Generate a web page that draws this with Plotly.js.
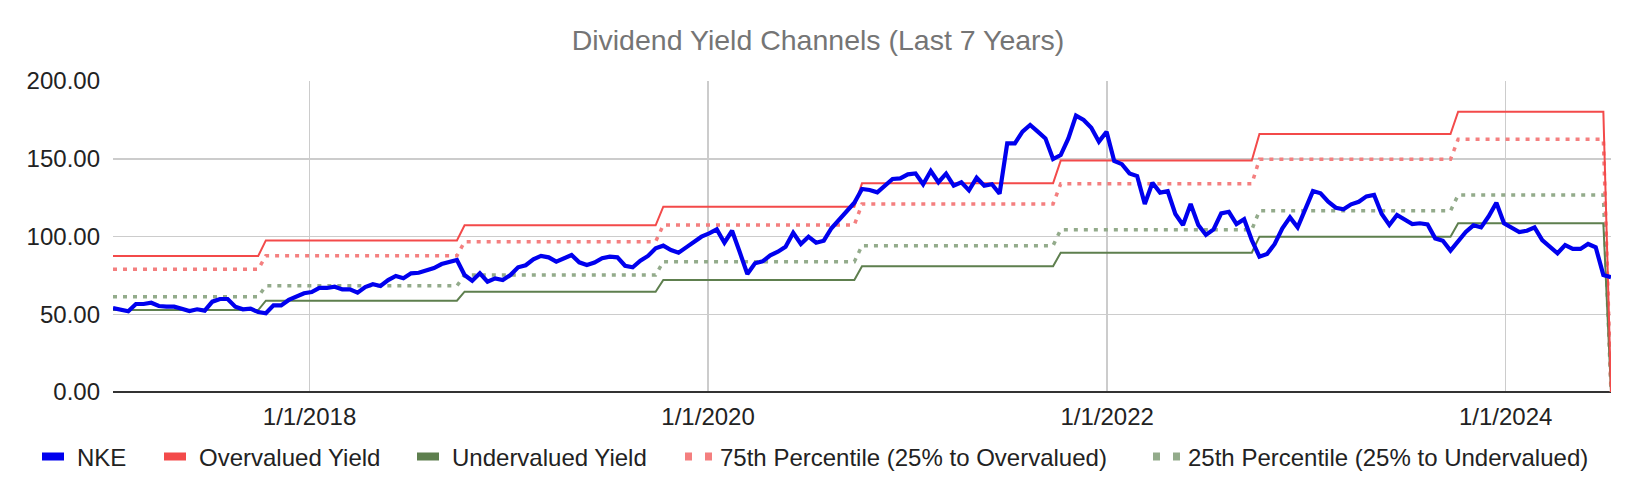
<!DOCTYPE html>
<html>
<head>
<meta charset="utf-8">
<script src="https://cdn.plot.ly/plotly-3.0.1.min.js"></script>
<style>
  html, body { margin: 0; padding: 0; background: #fff; }
  #chart { width: 1636px; height: 494px; }
</style>
</head>
<body>
<div id="chart"></div>
<script>
// ---- Data ----
const chartTitle = 'Dividend Yield Channels (Last 7 Years)';
const seriesNames = ['NKE', 'Overvalued Yield', 'Undervalued Yield',
  '75th Percentile (25% to Overvalued)', '25th Percentile (25% to Undervalued)'];

// NKE: biweekly observations starting 2017-01-06
const nkeStart = '2017-01-06';
const nkeStepDays = 14;
const nkeValues = [
  54.0, 53.2, 51.9, 56.6, 56.6, 57.4, 55.3, 54.9, 54.9, 53.6,
  52.1, 53.2, 52.3, 58.1, 59.8, 59.8, 54.9, 53.2, 53.6, 51.4,
  50.6, 55.7, 55.7, 59.2, 61.3, 63.5, 64.3, 66.9, 66.9, 67.7,
  66.0, 66.0, 63.9, 67.5, 69.3, 68.2, 72.0, 74.6, 73.1, 76.3,
  76.7, 78.5, 79.7, 82.3, 83.6, 84.9, 75.2, 71.6, 76.3, 70.9,
  73.1, 72.0, 75.2, 80.2, 81.5, 85.3, 87.5, 86.6, 83.8, 86.0,
  88.1, 83.4, 81.7, 83.2, 86.0, 87.0, 86.6, 81.2, 80.2, 84.4,
  87.5, 92.4, 94.1, 91.3, 89.6, 93.0, 96.7, 99.9, 102.0, 104.6,
  96.0, 103.7, 90.0, 75.9, 82.8, 84.0, 87.9, 90.2, 93.4, 102.4,
  95.2, 99.9, 96.0, 97.3, 105.3, 110.6, 116.0, 121.7, 130.6, 129.9,
  128.4, 133.1, 137.0, 137.4, 140.0, 140.6, 133.6, 142.1, 134.9, 140.4,
  132.7, 134.9, 129.7, 137.8, 132.7, 133.6, 127.5, 159.9, 159.9, 167.4,
  171.7, 167.4, 163.1, 149.8, 152.4, 163.1, 177.7, 174.9, 170.0, 161.0,
  167.4, 148.6, 146.5, 140.6, 138.9, 120.9, 134.6, 128.2, 129.1, 114.5,
  107.4, 120.9, 107.4, 101.0, 104.6, 114.9, 115.9, 108.0, 111.1, 97.7,
  87.0, 88.7, 95.2, 105.3, 112.3, 105.9, 118.1, 129.2, 127.8, 122.4,
  118.5, 117.5, 120.7, 122.3, 125.8, 126.7, 114.5, 107.4, 113.8, 111.0,
  108.0, 108.5, 107.8, 98.8, 97.3, 90.9, 96.7, 102.9, 107.2, 105.9,
  113.0, 121.7, 108.5, 105.5, 102.9, 103.7, 105.9, 97.7, 93.0, 89.2,
  94.5, 92.0, 92.0, 95.2, 93.1, 75.2, 73.8
];

// Channel bands: one level per dividend period
const periodStart = ['2017-01-06', '2017-10-13', '2018-10-12', '2019-10-11',
  '2020-10-09', '2021-10-08', '2022-10-07', '2023-10-06'];
const periodEnd = ['2017-09-29', '2018-09-28', '2019-09-27', '2020-09-25',
  '2021-09-24', '2022-09-23', '2023-09-22', '2024-06-28'];
const finalDate = '2024-07-12';
const finalValue = 0;
const overLevels  = [87.5, 97.5, 107.2, 119.2, 134.2, 148.8, 165.9, 180.3];
const underLevels = [52.7, 58.7, 64.5, 72.0, 80.8, 89.6, 99.9, 108.5];
const p75Levels   = [78.9, 87.6, 96.7, 107.4, 120.9, 133.9, 149.6, 162.5];
const p25Levels   = [61.3, 68.3, 75.2, 83.8, 94.1, 104.4, 116.5, 126.7];

// Axis ticks
const xTickVals = ['2018-01-01', '2020-01-01', '2022-01-01', '2024-01-01'];
const xTickText = ['1/1/2018', '1/1/2020', '1/1/2022', '1/1/2024'];
const yTickVals = [0, 50, 100, 150, 200];

// ---- Build traces ----
function nkeDates() {
  const out = [];
  const t0 = Date.parse(nkeStart + 'T00:00:00Z');
  for (let i = 0; i < nkeValues.length; i++) {
    out.push(new Date(t0 + i * nkeStepDays * 86400000).toISOString().slice(0, 10));
  }
  return out;
}
function band(levels) {
  const x = [], y = [];
  for (let k = 0; k < levels.length; k++) {
    x.push(periodStart[k], periodEnd[k]);
    y.push(levels[k], levels[k]);
  }
  x.push(finalDate); y.push(finalValue);
  return {x, y};
}

const FONT = 'Arial, "Liberation Sans", sans-serif';
const bOver = band(overLevels), bUnder = band(underLevels),
      b75 = band(p75Levels), b25 = band(p25Levels);

const colors = {nke: '#0000ee', over: '#f34a4a', under: '#5e7f4e', p75: '#f47f7f', p25: '#93ab8b'};

const plotTraces = [
  {x: b25.x, y: b25.y, name: seriesNames[4], type: 'scatter', mode: 'lines', showlegend: false,
   line: {color: colors.p25, width: 3.5, dash: '4px,6px'}},
  {x: b75.x, y: b75.y, name: seriesNames[3], type: 'scatter', mode: 'lines', showlegend: false,
   line: {color: colors.p75, width: 3.5, dash: '4px,6px'}},
  {x: bUnder.x, y: bUnder.y, name: seriesNames[2], type: 'scatter', mode: 'lines', showlegend: false,
   line: {color: colors.under, width: 2}},
  {x: bOver.x, y: bOver.y, name: seriesNames[1], type: 'scatter', mode: 'lines', showlegend: false,
   line: {color: colors.over, width: 2}},
  {x: nkeDates(), y: nkeValues, name: seriesNames[0], type: 'scatter', mode: 'lines', showlegend: false,
   line: {color: colors.nke, width: 4.2}}
];

// Legend-key entries (Google-style chunky keys); they carry no data points
function key(name, color, dash, legendId) {
  return {x: [null], y: [null], name: name, type: 'scatter', mode: 'lines',
          legend: legendId, showlegend: true,
          line: {color: color, width: 8, dash: dash}};
}
const SOLID_KEY = '22px,40px';
const DOT_KEY = '7px,13px';
const keyTraces = [
  key(seriesNames[0], colors.nke, SOLID_KEY, 'legend'),
  key(seriesNames[1], colors.over, SOLID_KEY, 'legend2'),
  key(seriesNames[2], colors.under, SOLID_KEY, 'legend3'),
  key(seriesNames[3], colors.p75, DOT_KEY, 'legend4'),
  key(seriesNames[4], colors.p25, DOT_KEY, 'legend5')
];

// Legend placement: one legend box per entry, spaced like the reference
const PLOT_L = 113, PLOT_W = 1498, PLOT_B = 392, PLOT_H = 311;
const legendLeftPx = [37, 159, 412, 680, 1148];
const legendCenterYPx = 457;
function legendAt(px) {
  return {orientation: 'h', x: (px - PLOT_L) / PLOT_W, xanchor: 'left',
          y: (PLOT_B - legendCenterYPx) / PLOT_H, yanchor: 'middle',
          font: {family: FONT, size: 24, color: '#222'}, bgcolor: 'rgba(0,0,0,0)',
          borderwidth: 0};
}

const layout = {
  width: 1636, height: 494,
  margin: {l: 113, r: 25, t: 81, b: 102, pad: 0},
  paper_bgcolor: '#fff', plot_bgcolor: '#fff',
  font: {family: FONT, size: 24, color: '#222'},
  title: {text: chartTitle, font: {family: FONT, size: 28.5, color: '#757575'},
          x: 0.5, xref: 'container', xanchor: 'center', y: 0.919, yanchor: 'middle'},
  showlegend: true,
  legend: legendAt(legendLeftPx[0]),
  legend2: legendAt(legendLeftPx[1]),
  legend3: legendAt(legendLeftPx[2]),
  legend4: legendAt(legendLeftPx[3]),
  legend5: legendAt(legendLeftPx[4]),
  xaxis: {type: 'date', range: [nkeStart, finalDate],
          tickvals: xTickVals, ticktext: xTickText, ticks: '',
          showgrid: true, gridcolor: '#cccccc', gridwidth: 1.5,
          zeroline: false, showline: false, ticklabelstandoff: 8,
          tickfont: {family: FONT, size: 24, color: '#222'}},
  yaxis: {range: [0, 200], tickvals: yTickVals, tickformat: '.2f', ticks: '',
          showgrid: true, gridcolor: '#cccccc', gridwidth: 1.5,
          zeroline: true, zerolinecolor: '#333333', zerolinewidth: 2,
          showline: false, ticklabelstandoff: 12,
          tickfont: {family: FONT, size: 24, color: '#222'}},
  hovermode: false
};

Plotly.newPlot('chart', plotTraces.concat(keyTraces), layout, {staticPlot: true, displayModeBar: false});
</script>
</body>
</html>
